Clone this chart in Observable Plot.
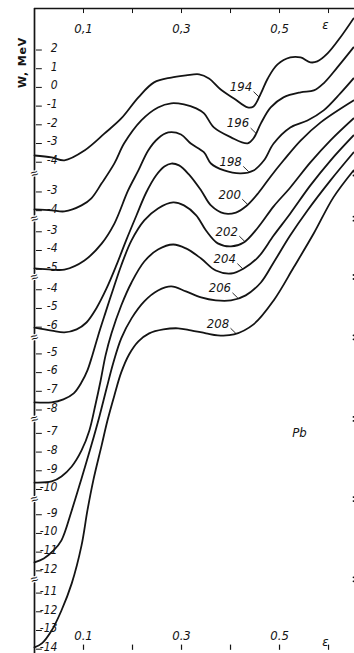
<!DOCTYPE html>
<html><head><meta charset="utf-8">
<script src="https://cdn.jsdelivr.net/npm/d3@7"></script>
<script src="https://cdn.jsdelivr.net/npm/@observablehq/plot@0.6"></script>
<style>body{margin:0;background:#fff} svg{display:block;background:#fff}</style>
</head><body><div id="chart"></div>
<script>
// Pb isotopes: deformation energy W (MeV) vs deformation ε, each curve on its own shifted scale
const isotopes = [194,196,198,200,202,204,206,208];
const offsets = [0,-2.59,-4.72,-6.82,-9.25,-11.50,-13.85,-16.04];

const curve194 = [[0,-3.64],[0.035,-3.74],[0.061,-3.90],[0.102,-3.37],[0.143,-2.46],[0.177,-1.66],[0.212,-0.53],[0.244,0.27],[0.279,0.53],[0.309,0.64],[0.336,0.70],[0.356,0.48],[0.380,-0.11],[0.407,-0.59],[0.435,-1.07],[0.447,-1.02],[0.462,-0.32],[0.476,0.48],[0.496,1.23],[0.522,1.60],[0.543,1.60],[0.563,1.34],[0.577,1.39],[0.598,1.82],[0.624,2.67],[0.651,3.69]];
const curve196 = [[0,-3.93],[0.035,-3.98],[0.061,-4.04],[0.096,-3.72],[0.116,-3.34],[0.137,-2.54],[0.163,-1.47],[0.183,-0.40],[0.218,0.83],[0.252,1.52],[0.279,1.74],[0.305,1.68],[0.330,1.47],[0.346,1.20],[0.366,0.45],[0.401,-0.08],[0.435,-0.40],[0.447,-0.13],[0.462,0.67],[0.482,1.52],[0.508,2.06],[0.543,2.33],[0.570,2.43],[0.590,2.81],[0.618,3.66],[0.651,4.73]];
const curve198 = [[0,-4.96],[0.035,-5.02],[0.061,-5.02],[0.102,-4.53],[0.137,-3.63],[0.163,-2.56],[0.191,-0.79],[0.212,0.28],[0.232,1.35],[0.252,1.99],[0.273,2.31],[0.299,2.20],[0.319,1.72],[0.346,1.24],[0.360,0.65],[0.387,0.28],[0.421,0.12],[0.447,0.28],[0.468,0.81],[0.488,1.72],[0.522,2.58],[0.557,2.95],[0.590,3.49],[0.624,4.40],[0.651,5.20]];
const curve200 = [[0,-6.02],[0.035,-6.18],[0.061,-6.28],[0.086,-6.12],[0.106,-5.75],[0.126,-5.00],[0.147,-3.93],[0.167,-2.70],[0.187,-1.36],[0.208,-0.03],[0.228,1.20],[0.248,2.11],[0.265,2.59],[0.279,2.75],[0.295,2.65],[0.315,2.17],[0.340,1.31],[0.360,0.51],[0.387,0.08],[0.411,0.13],[0.431,0.45],[0.456,1.15],[0.482,2.06],[0.508,2.91],[0.543,3.98],[0.584,4.95],[0.651,6.12]];
const curve202 = [[0,-7.59],[0.035,-7.59],[0.059,-7.43],[0.080,-7.11],[0.096,-6.52],[0.108,-5.88],[0.118,-5.08],[0.130,-4.01],[0.145,-2.78],[0.161,-1.50],[0.177,-0.27],[0.198,1.07],[0.224,2.14],[0.252,2.78],[0.283,3.10],[0.305,2.94],[0.330,2.41],[0.350,1.60],[0.374,0.91],[0.401,0.75],[0.427,0.96],[0.456,1.76],[0.488,2.89],[0.522,3.90],[0.563,5.24],[0.604,6.42],[0.651,7.59]];
const curve204 = [[0,-9.63],[0.035,-9.57],[0.055,-9.30],[0.076,-8.77],[0.096,-7.91],[0.112,-6.84],[0.124,-5.51],[0.135,-4.17],[0.145,-2.83],[0.157,-1.66],[0.177,-0.16],[0.198,1.07],[0.224,2.19],[0.252,2.83],[0.283,3.10],[0.309,2.89],[0.340,2.35],[0.370,1.71],[0.401,1.55],[0.427,1.82],[0.456,2.41],[0.488,3.58],[0.522,4.76],[0.563,6.26],[0.604,7.59],[0.651,8.93]];
const curve206 = [[0,-11.55],[0.019,-11.34],[0.039,-10.91],[0.055,-10.37],[0.076,-8.77],[0.096,-7.06],[0.116,-5.29],[0.133,-3.69],[0.147,-2.25],[0.161,-0.86],[0.177,0.43],[0.198,1.50],[0.224,2.41],[0.252,2.99],[0.279,3.21],[0.309,2.94],[0.340,2.62],[0.370,2.46],[0.401,2.46],[0.431,2.73],[0.462,3.42],[0.488,4.49],[0.522,5.94],[0.557,7.27],[0.604,8.88],[0.651,10.37]];
const curve208 = [[0,-13.90],[0.015,-13.69],[0.035,-13.00],[0.055,-11.93],[0.076,-10.48],[0.096,-8.45],[0.108,-6.58],[0.120,-4.97],[0.137,-3.10],[0.149,-1.76],[0.163,-0.43],[0.177,0.80],[0.193,1.76],[0.212,2.46],[0.234,2.89],[0.263,3.10],[0.293,3.16],[0.319,3.05],[0.350,2.89],[0.374,2.78],[0.407,2.83],[0.447,3.37],[0.488,4.65],[0.529,6.42],[0.570,8.24],[0.610,10.16],[0.651,11.60]];

// per-curve y-axis tick labels (MeV, in each curve's own frame)
const segTicks = [[2,1,0,-1,-2,-3,-4],[-3,-4],[-3,-4,-5],[-4,-5,-6],[-5,-6,-7,-8],[-7,-8,-9,-10],[-9,-10,-11,-12],[-11,-12,-13,-14]];
const epsTicks = [0.1,0.2,0.3,0.4,0.5,0.6];
const epsLabelValues = [0.1,0.3,0.5];
const topLabels = ["0,1","0,3","0,5"];
const bottomLabels = ["0.1","0.3","0.5"];
// ε where each isotope's label leader meets its curve
const labelEps = [0.458,0.452,0.437,0.435,0.429,0.425,0.415,0.411];

const curves = [curve194,curve196,curve198,curve200,curve202,curve204,curve206,curve208];
const yTop = 4.22, yBot = -30.27;

const rows = curves.flatMap((c,i)=>c.map(([e,w])=>({iso:isotopes[i], e, y:w+offsets[i]})));
const tickRows = segTicks.flatMap((ts,i)=>ts.map(t=>({y:t+offsets[i], label:String(t)})));
const breaks = segTicks.slice(0,-1).map((ts,i)=>{
  const gLast = ts[ts.length-1]+offsets[i];
  const gFirst = segTicks[i+1][0]+offsets[i+1];
  return gLast + 0.38*(gFirst-gLast);
});
function interp(c,e){for(let i=0;i<c.length-1;i++){if(e>=c[i][0]&&e<=c[i+1][0]){const t=(e-c[i][0])/(c[i+1][0]-c[i][0]);return c[i][1]+t*(c[i+1][1]-c[i][1]);}}return c[c.length-1][1];}
const labels = isotopes.map((iso,i)=>({iso, e:labelEps[i], y:interp(curves[i],labelEps[i])+offsets[i]}));

const fontF = "'DejaVu Sans Condensed','DejaVu Sans',sans-serif";
const ink = "#141414";
const txt = {fontFamily:fontF, fontStyle:"italic", fill:ink, lineAnchor:"middle"};

const svg = Plot.plot({
  width:354, height:653, marginLeft:34, marginRight:0, marginTop:8, marginBottom:0,
  x:{domain:[0,0.653], axis:null},
  y:{domain:[yBot,yTop], axis:null},
  marks:[
    Plot.ruleX([0], {stroke:ink, strokeWidth:1.7}),
    Plot.ruleY([yTop], {stroke:ink, strokeWidth:1.5}),
    Plot.ruleX(epsTicks, {x:d=>d, y1:yTop, y2:yTop-0.27, stroke:ink, strokeWidth:1}),
    Plot.ruleX(epsTicks, {x:d=>d, y1:yBot+0.17, y2:yBot+0.45, stroke:ink, strokeWidth:1.2}),
    Plot.ruleY(tickRows, {y:"y", x1:0.004, x2:0.016, stroke:ink, strokeWidth:1}),
    Plot.text(tickRows, {y:"y", text:"label", frameAnchor:"left", dx:23, dy:-2, textAnchor:"end", fontSize:12, ...txt}),
    Plot.line(rows, {x:"e", y:"y", z:"iso", curve:"catmull-rom", stroke:ink, strokeWidth:1.8}),
    Plot.text(breaks, {y:d=>d, frameAnchor:"left", text:()=>"≈", fontSize:13, fill:ink, stroke:"white", strokeWidth:2.5, rotate:-20, textAnchor:"middle", lineAnchor:"middle"}),
    Plot.dot(breaks, {y:d=>d, frameAnchor:"right", dx:-1, dy:-2, r:0.9, fill:ink, stroke:null}),
    Plot.dot(breaks, {y:d=>d, frameAnchor:"right", dx:-1, dy:2, r:0.9, fill:ink, stroke:null}),
    Plot.link(labels, {x1:"e", y1:"y", x2:d=>d.e-0.011, y2:d=>d.y+0.28, stroke:ink, strokeWidth:0.9}),
    Plot.text(labels, {x:"e", y:"y", text:d=>String(d.iso), dx:-18, dy:-10, fontSize:13, stroke:"white", strokeWidth:2, textAnchor:"middle", ...txt}),
    Plot.text(epsLabelValues, {x:d=>d, text:(d,i)=>topLabels[i], frameAnchor:"top", dy:20, fontSize:13, textAnchor:"middle", ...txt}),
    Plot.text(["ε"], {frameAnchor:"top-right", dx:-29, dy:16, fontSize:13, textAnchor:"middle", ...txt}),
    Plot.text(epsLabelValues, {x:d=>d, text:(d,i)=>bottomLabels[i], frameAnchor:"bottom", dy:-18, fontSize:13, textAnchor:"middle", ...txt}),
    Plot.text(["ε"], {frameAnchor:"bottom-right", dx:-29, dy:-12, fontSize:13, textAnchor:"middle", ...txt}),
    Plot.text(["W, MeV"], {frameAnchor:"top-left", dx:-12, dy:54, rotate:-90, fontSize:11, fontWeight:"bold", fontFamily:"'DejaVu Sans',sans-serif", fill:ink, textAnchor:"middle", lineAnchor:"middle"}),
    Plot.text(["Pb"], {frameAnchor:"top-left", dx:265, dy:424, fontSize:13, textAnchor:"middle", ...txt})
  ]
});
d3.select(svg).selectAll("text").filter(function(){return this.textContent==="W, MeV";}).attr("letter-spacing", 0.8);
document.getElementById("chart").appendChild(svg);
</script>
</body></html>
